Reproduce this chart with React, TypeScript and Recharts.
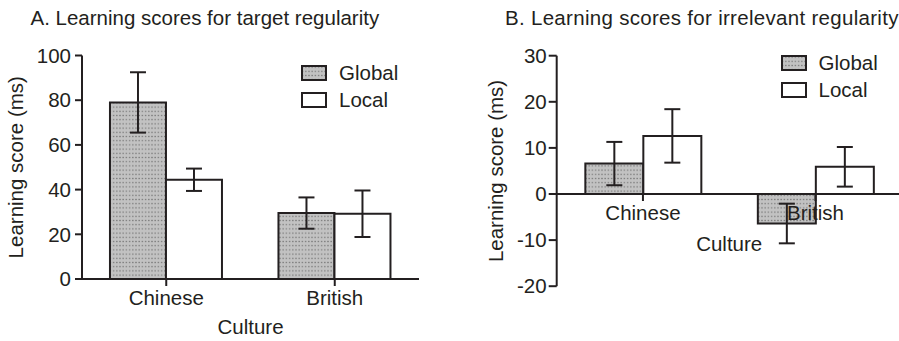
import React from 'react';
import { BarChart, Bar, XAxis, YAxis, ErrorBar, Legend, ReferenceLine, Label } from 'recharts';

// ---- data ----
const categories = ['Chinese', 'British'];

// Panel A: target regularity
const targetGlobal = [79, 29.5];
const targetGlobalErr = [13.5, 7];
const targetLocal = [44.4, 29.2];
const targetLocalErr = [5, 10.4];
const targetTicks = [0, 20, 40, 60, 80, 100];

// Panel B: irrelevant regularity
const irrelevantGlobal = [6.6, -6.4];
const irrelevantGlobalErr = [4.7, 4.3];
const irrelevantLocal = [12.6, 5.9];
const irrelevantLocalErr = [5.8, 4.3];
const irrelevantTicks = [-20, -10, 0, 10, 20, 30];

const seriesNames = ['Global', 'Local'];

const targetData = categories.map((c, i) => ({
  culture: c,
  global: targetGlobal[i],
  globalErr: targetGlobalErr[i],
  local: targetLocal[i],
  localErr: targetLocalErr[i],
}));

const irrelevantData = categories.map((c, i) => ({
  culture: c,
  global: irrelevantGlobal[i],
  globalErr: irrelevantGlobalErr[i],
  local: irrelevantLocal[i],
  localErr: irrelevantLocalErr[i],
}));

// ---- style ----
const INK = '#231f20';
const FONT = '"Liberation Sans", Arial, Helvetica, sans-serif';
const FS = 20.5;

// panel B geometry (used to move the category axis up to the zero line)
const B_TOP = 55.7;
const B_HEIGHT_PX = 341;
const B_XAXIS_H = 54.8;
const B_PLOT_H = B_HEIGHT_PX - B_TOP - B_XAXIS_H;
const B_MIN = irrelevantTicks[0];
const B_MAX = irrelevantTicks[irrelevantTicks.length - 1];
const B_SHIFT = (B_PLOT_H * (0 - B_MIN)) / (B_MAX - B_MIN);

const DotPattern = ({ id }: { id: string }) => (
  <defs>
    <pattern id={id} patternUnits="userSpaceOnUse" width={3.2} height={4.2}>
      <rect x={0} y={0} width={3.2} height={4.2} fill="#c2c2c2" />
      <rect x={1} y={1.5} width={1.2} height={1.2} fill="#6e6e6e" />
    </pattern>
  </defs>
);

const makeCategoryTick = (shift: number) => (props: any) => {
  const { x, y, payload } = props;
  const y0 = y - shift;
  return (
    <g>
      <line x1={x} x2={x} y1={y0} y2={y0 + 7} stroke={INK} strokeWidth={2} />
      <text
        x={x}
        y={y0 + 11}
        dy="0.71em"
        textAnchor="middle"
        fill={INK}
        fontSize={FS}
        fontFamily={FONT}
      >
        {payload.value}
      </text>
    </g>
  );
};

const makeCultureLabel = (shift: number, gap: number) => (props: any) => {
  const vb = props.viewBox || {};
  return (
    <text
      x={vb.x + vb.width / 2}
      y={vb.y - shift + gap}
      textAnchor="middle"
      fill={INK}
      fontSize={FS}
      fontFamily={FONT}
    >
      Culture
    </text>
  );
};

const makeYLabel = (bx: number) => (props: any) => {
  const vb = props.viewBox || {};
  const cy = vb.y + vb.height / 2;
  return (
    <text
      x={bx}
      y={cy}
      transform={`rotate(-90, ${bx}, ${cy})`}
      textAnchor="middle"
      fill={INK}
      fontSize={FS}
      fontFamily={FONT}
    >
      Learning score (ms)
    </text>
  );
};

const LegendBox = (props: any) => {
  const items = props.payload || [];
  return (
    <div style={{ fontFamily: FONT, fontSize: FS, color: INK }}>
      {items.map((e: any, i: number) => (
        <div key={i} style={{ display: 'flex', alignItems: 'center', height: 26.5 }}>
          <svg width={26} height={16} style={{ display: 'block', marginRight: 12 }}>
            <rect x={1} y={1} width={24} height={14} fill={e.color} stroke={INK} strokeWidth={2} />
          </svg>
          <span style={{ lineHeight: '20px' }}>{e.value}</span>
        </div>
      ))}
    </div>
  );
};

const tickStyle = { fill: INK, fontSize: FS, fontFamily: FONT };
const axisLineStyle = { stroke: INK, strokeWidth: 2 };

const titleStyle: React.CSSProperties = {
  position: 'absolute',
  top: 8.4,
  fontFamily: FONT,
  fontSize: FS,
  lineHeight: '19px',
  color: INK,
  whiteSpace: 'nowrap',
};

export default function App() {
  return (
    <div
      style={{
        position: 'absolute',
        left: 0,
        top: 0,
        width: 899,
        height: 341,
        overflow: 'hidden',
        background: '#ffffff',
      }}
    >
      <div style={{ ...titleStyle, left: 30.5 }}>A. Learning scores for target regularity</div>
      <div style={{ ...titleStyle, left: 505, letterSpacing: 0.3 }}>
        B. Learning scores for irrelevant regularity
      </div>

      {/* Panel A */}
      <div style={{ position: 'absolute', left: 0, top: 0 }}>
        <BarChart
          width={450}
          height={341}
          data={targetData}
          margin={{ top: 55.5, right: 31, bottom: 0, left: 0 }}
          barCategoryGap="16.6%"
          barGap={0}
        >
          <DotPattern id="dotsA" />
          <XAxis
            dataKey="culture"
            height={62}
            axisLine={axisLineStyle}
            tickLine={false}
            tickSize={0}
            tickMargin={0}
            tick={makeCategoryTick(0)}
            interval={0}
          >
            <Label content={makeCultureLabel(0, 55)} />
          </XAxis>
          <YAxis
            width={82}
            domain={[0, 100]}
            ticks={targetTicks}
            interval={0}
            axisLine={axisLineStyle}
            tickLine={axisLineStyle}
            tickSize={7}
            tickMargin={4}
            tick={tickStyle}
          >
            <Label content={makeYLabel(23)} />
          </YAxis>
          <Legend
            layout="vertical"
            align="center"
            verticalAlign="middle"
            wrapperStyle={{ left: 301, top: 60, width: 'auto' }}
            content={<LegendBox />}
          />
          <Bar
            dataKey="global"
            name={seriesNames[0]}
            fill="url(#dotsA)"
            stroke={INK}
            strokeWidth={2}
            isAnimationActive={false}
          >
            <ErrorBar dataKey="globalErr" width={8} stroke={INK} strokeWidth={2} direction="y" />
          </Bar>
          <Bar
            dataKey="local"
            name={seriesNames[1]}
            fill="#ffffff"
            stroke={INK}
            strokeWidth={2}
            isAnimationActive={false}
          >
            <ErrorBar dataKey="localErr" width={8} stroke={INK} strokeWidth={2} direction="y" />
          </Bar>
        </BarChart>
      </div>

      {/* Panel B */}
      <div style={{ position: 'absolute', left: 450, top: 0 }}>
        <BarChart
          width={460}
          height={B_HEIGHT_PX}
          data={irrelevantData}
          margin={{ top: B_TOP, right: 8.3, bottom: 0, left: 0 }}
          barCategoryGap="16.6%"
          barGap={0}
        >
          <DotPattern id="dotsB" />
          <XAxis
            dataKey="culture"
            height={B_XAXIS_H}
            axisLine={false}
            tickLine={false}
            tickSize={0}
            tickMargin={0}
            tick={makeCategoryTick(B_SHIFT)}
            interval={0}
          >
            <Label content={makeCultureLabel(B_SHIFT, 57)} />
          </XAxis>
          <YAxis
            width={106.7}
            domain={[B_MIN, B_MAX]}
            ticks={irrelevantTicks}
            interval={0}
            axisLine={axisLineStyle}
            tickLine={axisLineStyle}
            tickSize={8}
            tickMargin={2}
            tick={tickStyle}
          >
            <Label content={makeYLabel(53.5)} />
          </YAxis>
          <Legend
            layout="vertical"
            align="center"
            verticalAlign="middle"
            wrapperStyle={{ left: 330.5, top: 50, width: 'auto' }}
            content={<LegendBox />}
          />
          <Bar
            dataKey="global"
            name={seriesNames[0]}
            fill="url(#dotsB)"
            stroke={INK}
            strokeWidth={2}
            isAnimationActive={false}
          >
            <ErrorBar dataKey="globalErr" width={8} stroke={INK} strokeWidth={2} direction="y" />
          </Bar>
          <Bar
            dataKey="local"
            name={seriesNames[1]}
            fill="#ffffff"
            stroke={INK}
            strokeWidth={2}
            isAnimationActive={false}
          >
            <ErrorBar dataKey="localErr" width={8} stroke={INK} strokeWidth={2} direction="y" />
          </Bar>
          <ReferenceLine y={0} stroke={INK} strokeWidth={2} />
        </BarChart>
      </div>
    </div>
  );
}
